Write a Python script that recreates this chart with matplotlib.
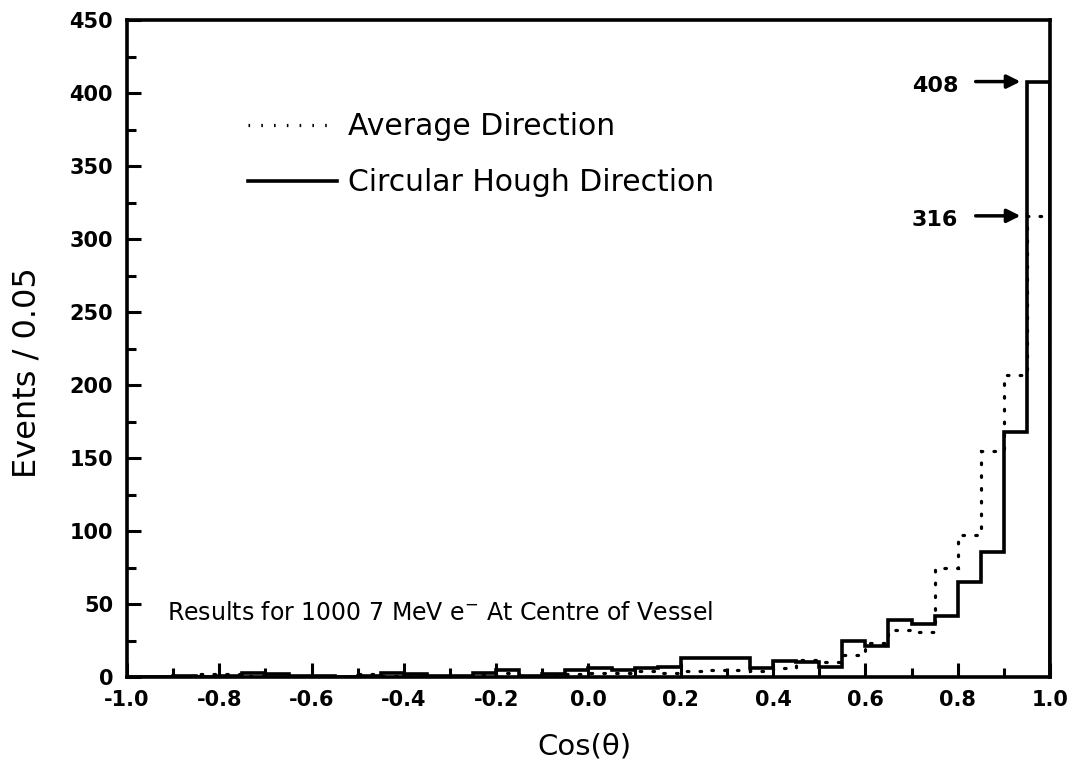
import matplotlib.pyplot as plt
import numpy as np

#------
# data (events per 0.05 bin in cos(theta), from -1.0 up)

bin_edges = np.round(np.linspace(-1.0, 1.0, 41), 2)

# circular hough direction (solid)
hough_counts = [0, 0, 1, 0, 1, 3, 2, 1, 1, 0, 1, 3, 2, 1, 1, 3, 5, 1, 2, 5,
                6, 5, 6, 7, 13, 13, 13, 6, 11, 10, 7, 25, 21, 39, 36, 42, 65, 86, 168, 408]

# average direction (dotted)
average_counts = [0, 0, 0, 2, 2, 1, 0, 0, 1, 0, 2, 1, 1, 1, 1, 2, 3, 1, 1, 2,
                  3, 3, 4, 3, 4, 5, 5, 4, 6, 12, 10, 15, 23, 32, 31, 75, 97, 155, 207, 316]

x_ticks = [-1.0, -0.8, -0.6, -0.4, -0.2, 0.0, 0.2, 0.4, 0.6, 0.8, 1.0]
y_ticks = [0, 50, 100, 150, 200, 250, 300, 350, 400, 450]

peak_labels = ['408', '316']
peak_values = [408, 316]

#------
# plot

plt.rcParams['font.family'] = ['DejaVu Sans']

fig = plt.figure(figsize=(10.77, 7.8), dpi=100)
ax = fig.add_axes([0.1179, 0.132, 0.857, 0.842])

ax.stairs(average_counts, bin_edges, color='black', linewidth=2.3,
          linestyle=(0, (0.5, 3.5)), capstyle='round',
          label='Average Direction')
ax.stairs(hough_counts, bin_edges, color='black', linewidth=2.6,
          label='Circular Hough Direction')

ax.set_xlim(-1.0, 1.0)
ax.set_ylim(0, 450)
ax.set_xticks(x_ticks)
ax.set_xticklabels(['%.1f' % t for t in x_ticks])
ax.set_xticks(np.arange(-0.9, 1.0, 0.2), minor=True)
ax.set_yticks(y_ticks)
ax.set_yticks(np.arange(25, 450, 50), minor=True)

ax.tick_params(which='both', direction='in', top=False, right=False,
               width=2.2, labelsize=15)
ax.tick_params(which='major', length=10)
ax.tick_params(which='minor', length=6.5)
ax.tick_params(axis='x', pad=9)
ax.tick_params(axis='y', pad=10)
for lab in ax.get_xticklabels() + ax.get_yticklabels():
    lab.set_fontweight('bold')
for sp in ax.spines.values():
    sp.set_linewidth(2.6)

ax.set_xlabel('Cos(θ)', fontsize=21)
ax.set_ylabel('Events / 0.05', fontsize=23)
ax.xaxis.set_label_coords(0.496, -0.085)
ax.yaxis.set_label_coords(-0.092, 0.464)

ax.legend(loc='upper left', bbox_to_anchor=(0.131, 0.86), frameon=False,
          fontsize=21.5, handlelength=3.0, handletextpad=0.35,
          labelspacing=0.9, borderpad=0, borderaxespad=0)

ax.text(0.0433, 0.097, 'Results for 1000 7 MeV e$^{\\mathsf{-}}$ At Centre of Vessel',
        transform=ax.transAxes, fontsize=17, va='center')

# arrows marking the peak bin heights
for lab, val in zip(peak_labels, peak_values):
    ax.annotate('', xy=(0.942, val), xytext=(0.833, val),
                arrowprops=dict(arrowstyle='-|>', color='black', lw=2.5,
                                mutation_scale=20))
    ax.text(0.751, val - 3, lab, fontsize=16, fontweight='bold',
            va='center', ha='center')

fig.savefig('out.png', dpi=100)
